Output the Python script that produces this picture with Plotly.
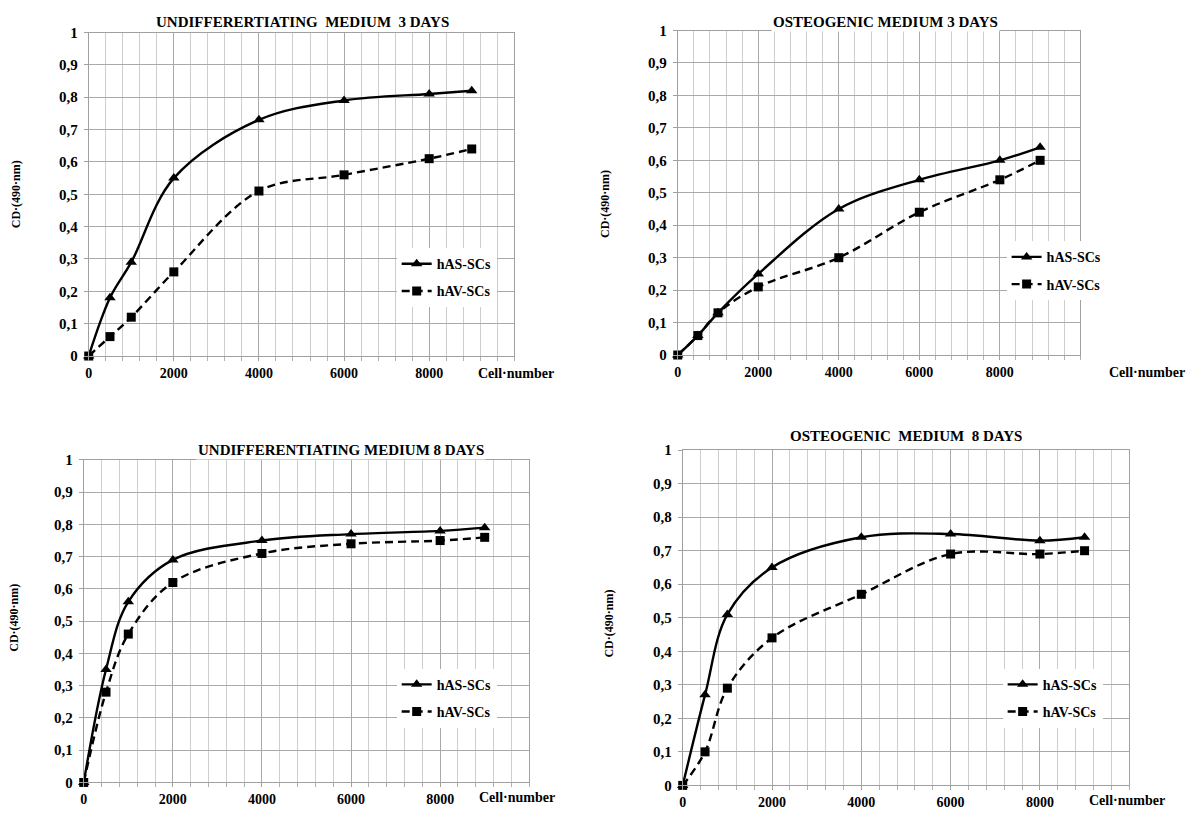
import plotly.graph_objects as go

# ---------------- data ----------------
cells = [0, 500, 1000, 2000, 4000, 6000, 8000, 9000]

um3_has = [0, 0.18, 0.29, 0.55, 0.73, 0.79, 0.81, 0.82]
um3_hav = [0, 0.06, 0.12, 0.26, 0.51, 0.56, 0.61, 0.64]
om3_has = [0, 0.06, 0.13, 0.25, 0.45, 0.54, 0.60, 0.64]
om3_hav = [0, 0.06, 0.13, 0.21, 0.30, 0.44, 0.54, 0.60]
um8_has = [0, 0.35, 0.56, 0.69, 0.75, 0.77, 0.78, 0.79]
um8_hav = [0, 0.28, 0.46, 0.62, 0.71, 0.74, 0.75, 0.76]
om8_has = [0, 0.27, 0.51, 0.65, 0.74, 0.75, 0.73, 0.74]
om8_hav = [0, 0.10, 0.29, 0.44, 0.57, 0.69, 0.69, 0.70]

panel_titles = ["UNDIFFERERTIATING  MEDIUM  3 DAYS", "OSTEOGENIC MEDIUM 3 DAYS",
                "UNDIFFERENTIATING MEDIUM 8 DAYS", "OSTEOGENIC  MEDIUM  8 DAYS"]
series_names = ["hAS-SCs", "hAV-SCs"]
x_title = "Cell·number"
y_title = "CD·(490·nm)"

y_ticks = [0, 0.1, 0.2, 0.3, 0.4, 0.5, 0.6, 0.7, 0.8, 0.9, 1]
y_labels = ["0", "0,1", "0,2", "0,3", "0,4", "0,5", "0,6", "0,7", "0,8", "0,9", "1"]
x_ticks = [0, 2000, 4000, 6000, 8000]
x_labels = ["0", "2000", "4000", "6000", "8000"]

panels = [(um3_has, um3_hav), (om3_has, om3_hav), (um8_has, um8_hav), (om8_has, om8_hav)]

# ---------------- layout geometry (pixels) ----------------
W, H = 1192, 813
FONT = "Liberation Serif, Times New Roman, serif"

# plot rectangles: left, right, top, bottom
rects = [(85, 512, 25, 355), (676, 1080, 23, 354), (80, 527, 461, 790), (681, 1129, 451, 793)]
title_pos = [(300, 14), (884, 14), (338, 451), (905, 437)]
xtitle_pos = [(514, 373), (1147, 372), (515, 805), (1127, 808)]
ytitle_pos = [(12, 190), (603, 200), (10, 622), (607, 628)]
legend_pos = [(394, 245), (1006, 238), (394, 674), (1002, 674)]


def px(x):
    return x / W


def py(y):
    return 1 - y / H


fig = go.Figure()

for i, (s_as, s_av) in enumerate(panels):
    n = "" if i == 0 else str(i + 1)
    xa, ya = "x" + n, "y" + n
    leg = "legend" + n
    fig.add_trace(go.Scatter(
        x=cells, y=s_as, name=series_names[0], xaxis=xa, yaxis=ya, legend=leg,
        legendgroup=f"a{i}", mode="lines+markers", cliponaxis=False,
        line=dict(color="black", width=2.4, shape="spline", smoothing=1),
        marker=dict(symbol="triangle-up", size=10, color="black")))
    fig.add_trace(go.Scatter(
        x=cells, y=s_av, name=series_names[1], xaxis=xa, yaxis=ya, legend=leg,
        legendgroup=f"b{i}", mode="lines+markers", cliponaxis=False,
        line=dict(color="black", width=2.4, shape="spline", smoothing=1, dash="8px,5px"),
        marker=dict(symbol="square", size=9, color="black")))

    l, r, t, b = rects[i]
    fig.layout["xaxis" + n] = dict(
        domain=[px(l), px(r)], anchor=ya, range=[0, 10000],
        tickvals=x_ticks, ticktext=x_labels,
        showgrid=True, gridcolor="#a9a9a9", gridwidth=1,
        minor=dict(dtick=400, showgrid=True, gridcolor="#cdcdcd", gridwidth=1,
                   ticks="outside", ticklen=4, tickcolor="#b0b0b0"),
        ticks="outside", ticklen=4, tickcolor="#a0a0a0",
        showline=True, linecolor="#a0a0a0", linewidth=1, mirror=True,
        zeroline=False, fixedrange=True,
        tickfont=dict(family=FONT, size=14, color="black", weight="bold"))
    fig.layout["yaxis" + n] = dict(
        domain=[py(b), py(t)], anchor=xa, range=[0, 1],
        tickvals=y_ticks, ticktext=y_labels,
        showgrid=True, gridcolor="#a9a9a9", gridwidth=1,
        ticks="outside", ticklen=4, tickcolor="#a0a0a0", ticklabelstandoff=3,
        showline=True, linecolor="#a0a0a0", linewidth=1, mirror=True,
        zeroline=False, fixedrange=True,
        tickfont=dict(family=FONT, size=15, color="black", weight="bold"))

    lx, ly = legend_pos[i]
    fig.layout[leg] = dict(
        x=px(lx), y=py(ly), xanchor="left", yanchor="top",
        bgcolor="white", borderwidth=0, itemwidth=30,
        traceorder="grouped", tracegroupgap=6,
        font=dict(family=FONT, size=14, color="black", weight="bold"))

    tx, ty = title_pos[i]
    fig.add_annotation(x=px(tx), y=py(ty), xref="paper", yref="paper", text=panel_titles[i],
                       showarrow=False, bgcolor="white", xanchor="center", yanchor="middle",
                       font=dict(family=FONT, size=15, color="black", weight="bold"))
    cx, cy = xtitle_pos[i]
    fig.add_annotation(x=px(cx), y=py(cy), xref="paper", yref="paper", text=x_title,
                       showarrow=False, xanchor="center", yanchor="middle",
                       font=dict(family=FONT, size=14, color="black", weight="bold"))
    yx, yy = ytitle_pos[i]
    fig.add_annotation(x=px(yx), y=py(yy), xref="paper", yref="paper", text=y_title,
                       showarrow=False, textangle=-90, xanchor="center", yanchor="middle",
                       font=dict(family=FONT, size=12, color="black", weight="bold"))

fig.update_layout(
    width=W, height=H, margin=dict(l=0, r=0, t=0, b=0),
    paper_bgcolor="white", plot_bgcolor="white", showlegend=True,
)

fig.write_html("out.html", config={"displayModeBar": False},
               post_script="document.body.style.margin='0';document.body.style.overflow='hidden';")
